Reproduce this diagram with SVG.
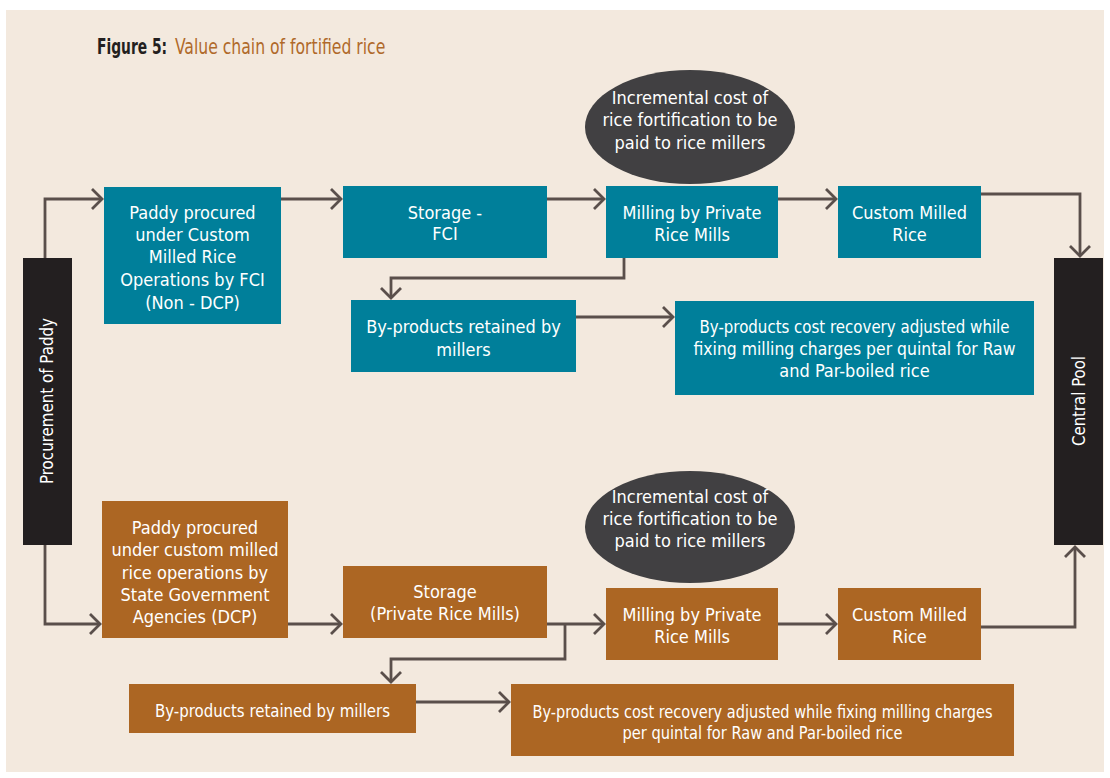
<svg xmlns="http://www.w3.org/2000/svg" width="1110" height="778" viewBox="0 0 1110 778">
<style>
.t{font-family:"Liberation Sans Narrow","DejaVu Sans Condensed","Liberation Sans",sans-serif;font-size:18px;fill:#ffffff;text-anchor:middle}
.teal{fill:#007F9A}
.brown{fill:#AC6623}
.dark{fill:#231F20}
.ell{fill:#414042}
.c{fill:none;stroke:#5A4F4B;stroke-width:2.8;marker-end:url(#ah)}
.ttl{font-family:"Liberation Sans Narrow","DejaVu Sans Condensed",sans-serif;font-size:22px}
</style>
<defs>
<marker id="ah" markerUnits="userSpaceOnUse" viewBox="-12 -12 14 24" refX="0" refY="0" markerWidth="14" markerHeight="24" orient="auto">
<path d="M-10,-10 L0,0 L-10,10" fill="none" stroke="#5A4F4B" stroke-width="2.8"/>
</marker>
</defs>
<rect x="0" y="0" width="1110" height="778" fill="#ffffff"/>
<rect x="6" y="10" width="1098" height="762" fill="#F3E9DE"/>
<text class="ttl" transform="translate(97,54) scale(0.7,1)" font-weight="bold" fill="#231F20">Figure 5:</text>
<text class="ttl" transform="translate(175,54) scale(0.79,1)" fill="#B0692A">Value chain of fortified rice</text>

<g id="connectors">
<polyline class="c" points="45,258 45,199 102,199"/>
<line class="c" x1="281" y1="199" x2="341" y2="199"/>
<line class="c" x1="547" y1="199" x2="604" y2="199"/>
<line class="c" x1="778" y1="199" x2="836" y2="199"/>
<polyline class="c" points="981,194 1080,194 1080,256"/>
<polyline class="c" points="624,258 624,278 391,278 391,298"/>
<line class="c" x1="576" y1="317" x2="673" y2="317"/>

<polyline class="c" points="45,545 45,624 100,624"/>
<line class="c" x1="288" y1="624" x2="341" y2="624"/>
<line class="c" x1="547" y1="624" x2="604" y2="624"/>
<polyline class="c" points="565,624 565,659 391,659 391,682"/>
<line class="c" x1="778" y1="624" x2="836" y2="624"/>
<polyline class="c" points="981,627 1075,627 1075,547"/>
<line class="c" x1="416" y1="702" x2="509" y2="702"/>
</g>

<g id="procurement">
<rect class="dark" x="23" y="258" width="49" height="287"/>
<text class="t" transform="translate(53,401) rotate(-90)" textLength="166" lengthAdjust="spacingAndGlyphs">Procurement of Paddy</text>
</g>
<g id="central-pool">
<rect class="dark" x="1054" y="258" width="49" height="287"/>
<text class="t" transform="translate(1085,401) rotate(-90)" textLength="90" lengthAdjust="spacingAndGlyphs">Central Pool</text>
</g>

<g id="ellipse-top">
<ellipse class="ell" cx="690" cy="127" rx="105" ry="57"/>
<text class="t"><tspan x="690" y="104">Incremental cost of</tspan><tspan x="690" y="126">rice fortification to be</tspan><tspan x="690" y="149">paid to rice millers</tspan></text>
</g>
<g id="ellipse-bottom">
<ellipse class="ell" cx="690" cy="527" rx="105" ry="56"/>
<text class="t"><tspan x="690" y="503">Incremental cost of</tspan><tspan x="690" y="525">rice fortification to be</tspan><tspan x="690" y="547">paid to rice millers</tspan></text>
</g>

<g id="fci-paddy">
<rect class="teal" x="104" y="187" width="177" height="137"/>
<text class="t"><tspan x="192.5" y="219">Paddy procured</tspan><tspan x="192.5" y="241">under Custom</tspan><tspan x="192.5" y="263">Milled Rice</tspan><tspan x="192.5" y="286">Operations by FCI</tspan><tspan x="192.5" y="309">(Non - DCP)</tspan></text>
</g>
<g id="fci-storage">
<rect class="teal" x="343" y="186" width="204" height="72"/>
<text class="t"><tspan x="445" y="219">Storage -</tspan><tspan x="445" y="240">FCI</tspan></text>
</g>
<g id="fci-milling">
<rect class="teal" x="606" y="186" width="172" height="72"/>
<text class="t"><tspan x="692" y="219">Milling by Private</tspan><tspan x="692" y="241">Rice Mills</tspan></text>
</g>
<g id="fci-cmr">
<rect class="teal" x="838" y="186" width="143" height="72"/>
<text class="t"><tspan x="909.5" y="219">Custom Milled</tspan><tspan x="909.5" y="241">Rice</tspan></text>
</g>
<g id="fci-byproducts">
<rect class="teal" x="351" y="300" width="225" height="72"/>
<text class="t"><tspan x="463.5" y="333">By-products retained by</tspan><tspan x="463.5" y="356">millers</tspan></text>
</g>
<g id="fci-cost">
<rect class="teal" x="675" y="301" width="359" height="94"/>
<text class="t"><tspan x="854.5" y="333" textLength="310" lengthAdjust="spacingAndGlyphs">By-products cost recovery adjusted while</tspan><tspan x="854.5" y="355" textLength="322" lengthAdjust="spacingAndGlyphs">fixing milling charges per quintal for Raw</tspan><tspan x="854.5" y="377">and Par-boiled rice</tspan></text>
</g>

<g id="dcp-paddy">
<rect class="brown" x="102" y="501" width="186" height="137"/>
<text class="t"><tspan x="195" y="534">Paddy procured</tspan><tspan x="195" y="556">under custom milled</tspan><tspan x="195" y="579">rice operations by</tspan><tspan x="195" y="601">State Government</tspan><tspan x="195" y="623">Agencies (DCP)</tspan></text>
</g>
<g id="dcp-storage">
<rect class="brown" x="343" y="566" width="204" height="72"/>
<text class="t"><tspan x="445" y="598">Storage</tspan><tspan x="445" y="620">(Private Rice Mills)</tspan></text>
</g>
<g id="dcp-milling">
<rect class="brown" x="606" y="588" width="172" height="72"/>
<text class="t"><tspan x="692" y="621">Milling by Private</tspan><tspan x="692" y="643">Rice Mills</tspan></text>
</g>
<g id="dcp-cmr">
<rect class="brown" x="838" y="588" width="143" height="72"/>
<text class="t"><tspan x="909.5" y="621">Custom Milled</tspan><tspan x="909.5" y="643">Rice</tspan></text>
</g>
<g id="dcp-byproducts">
<rect class="brown" x="129" y="684" width="287" height="49"/>
<text class="t" x="272.5" y="717" textLength="235" lengthAdjust="spacingAndGlyphs">By-products retained by millers</text>
</g>
<g id="dcp-cost">
<rect class="brown" x="511" y="684" width="503" height="72"/>
<text class="t"><tspan x="762.5" y="718" textLength="460" lengthAdjust="spacingAndGlyphs">By-products cost recovery adjusted while fixing milling charges</tspan><tspan x="762.5" y="739" textLength="280" lengthAdjust="spacingAndGlyphs">per quintal for Raw and Par-boiled rice</tspan></text>
</g>
</svg>
